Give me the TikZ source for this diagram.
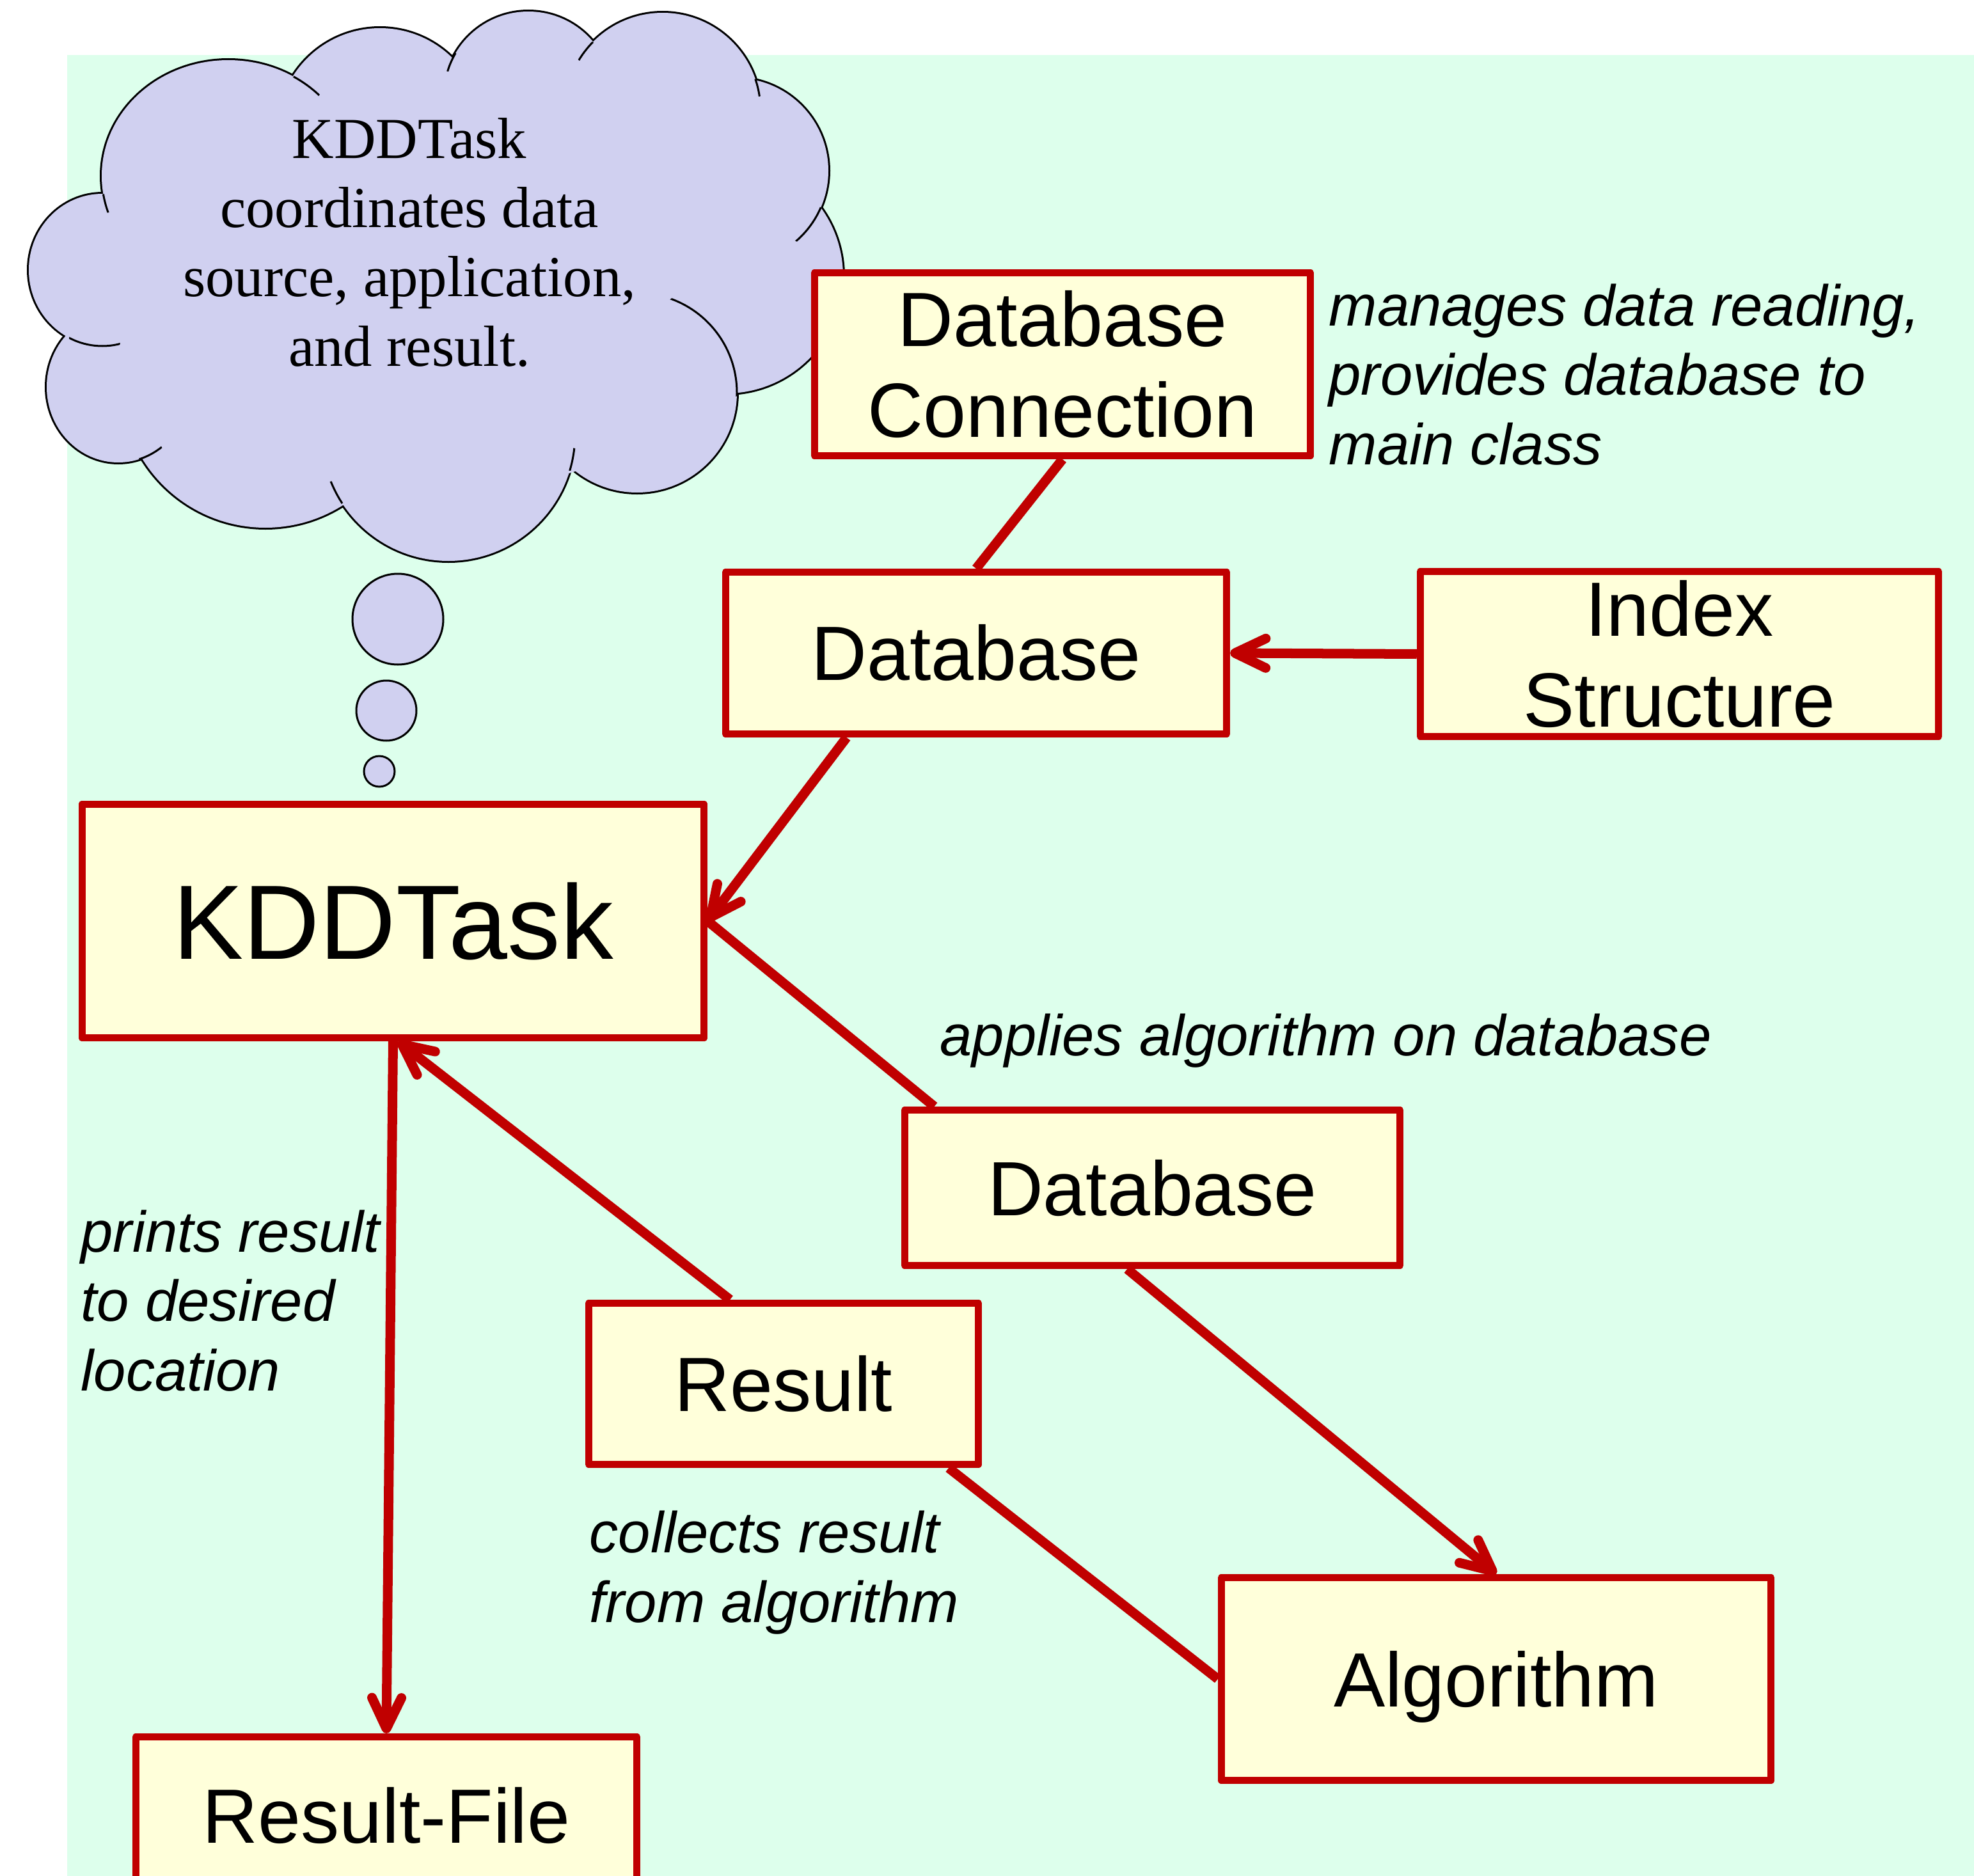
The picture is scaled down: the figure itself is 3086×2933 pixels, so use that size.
\documentclass[tikz,border=0pt]{standalone}
\usepackage{fontspec}
\setmainfont{Liberation Serif}
\newfontfamily\arialfont{Liberation Sans}
\usetikzlibrary{arrows.meta,calc}

\definecolor{boxred}{RGB}{192,0,0}
\definecolor{boxfill}{RGB}{255,255,218}
\definecolor{bgmint}{RGB}{221,255,236}
\definecolor{cloudfill}{RGB}{208,208,240}

\newcommand\boxfont{\arialfont\fontsize{34.2pt}{40.5pt}\selectfont}
\newcommand\kddfont{\arialfont\fontsize{47pt}{56pt}\selectfont}
\newcommand\notefont{\arialfont\itshape\fontsize{25.7pt}{30.8pt}\selectfont}
\newcommand\cloudfont{\fontsize{25.8pt}{30.8pt}\selectfont}

% the puffs of the thought cloud
\newcommand\cloudpuffs[1]{%
  \path[#1]
    (357,275) ellipse [x radius=198, y radius=181]
    (594,205) circle [radius=161]
    (826,150) circle [radius=132]
    (1036,173) circle [radius=153]
    (1150,267) circle [radius=145]
    (1135,432) circle [radius=183]
    (996,614) circle [radius=156]
    (701,679) circle [radius=198]
    (415,599) circle [radius=226]
    (185,605) ellipse [x radius=112, y radius=118]
    (160,422) ellipse [x radius=115, y radius=119];}

% a short inner stroke of one puff, limited to a small disc
\newcommand\puffstub[4]{%
  \begin{scope}
    \clip #1 circle [radius=#2];
    \draw[puffline] #3 #4;
  \end{scope}}

\begin{document}
\begin{tikzpicture}[x=0.01cm, y=-0.01cm,
  box/.style={draw=boxred, fill=boxfill, line width=0.11cm, line join=round,
    inner sep=0pt, align=center, font=\boxfont},
  conn/.style={draw=boxred, line width=0.15cm},
  tip/.style={-{Straight Barb[round, length=0.48cm, width=0.46cm]}},
  note/.style={font=\notefont, align=left, inner sep=0pt, anchor=base west},
  puffline/.style={draw=black, line width=0.03cm},
  bubble/.style={draw=black, fill=cloudfill, line width=0.03cm}]

\useasboundingbox (0,0) rectangle (3086,2933);
\fill[bgmint] (105,86) rectangle (3086,2933);

% thought cloud: outline, fill over the inner strokes, then the inner stubs
\cloudpuffs{draw=black, line width=0.06cm}
\cloudpuffs{fill=cloudfill}
\fill[cloudfill] (680,470) ellipse [x radius=480, y radius=300];

\puffstub{(165,318)}{15}{(357,275)}{ellipse [x radius=198, y radius=181]}
\puffstub{(480,133)}{25}{(357,275)}{ellipse [x radius=198, y radius=181]}
\puffstub{(703,96)}{16}{(826,150)}{circle [radius=132]}
\puffstub{(916,80)}{18}{(1036,173)}{circle [radius=153]}
\puffstub{(1185,137)}{14}{(1036,173)}{circle [radius=153]}
\puffstub{(1260,348)}{33}{(1150,267)}{circle [radius=145]}
\puffstub{(1105,540)}{92}{(996,614)}{circle [radius=156]}
\puffstub{(893,718)}{18}{(701,679)}{circle [radius=198]}
\puffstub{(522,772)}{20}{(701,679)}{circle [radius=198]}
\puffstub{(235,708)}{20}{(185,605)}{ellipse [x radius=112, y radius=118]}
\puffstub{(148,532)}{40}{(160,422)}{ellipse [x radius=115, y radius=119]}

% anchored at the baseline of the last line
\node[font=\cloudfont, align=center, anchor=base, inner sep=0pt] (cloudtext) at (640,572)
  {KDDTask\\coordinates data\\source, application,\\and result.};

\draw[bubble] (622,968) circle [radius=71];
\draw[bubble] (604,1111) circle [radius=47];
\draw[bubble] (593,1206) circle [radius=24];

% boxes
\node[box, minimum width=7.75cm, minimum height=2.86cm] (dbc) at (1661,569.5) {Database\\Connection};
\node[box, minimum width=7.83cm, minimum height=2.53cm] (db) at (1526,1021) {Database};
\node[box, minimum width=8.10cm, minimum height=2.58cm] (idx) at (2625.5,1022.5) {Index\\Structure};
\node[box, minimum width=9.72cm, minimum height=3.65cm, font=\kddfont] (kdd) at (614.5,1440) {KDDTask};
\node[box, minimum width=7.74cm, minimum height=2.43cm] (db3) at (1801.5,1857) {Database};
\node[box, minimum width=6.09cm, minimum height=2.52cm] (res) at (1225,2163.5) {Result};
\node[box, minimum width=8.59cm, minimum height=3.17cm, text depth=0pt] (alg) at (2339,2625) {Algorithm};
\node[box, minimum width=7.83cm, minimum height=2.45cm] (rf) at (604,2838) {Result-File};

% connectors
\draw[conn] (dbc.south) -- (db.north);
\draw[conn, tip] (idx.west) -- (db.east);
\draw[conn, tip] ($(db.south west)!0.245!(db.south east)$) -- (kdd.east);
\draw[conn] (kdd.east) -- ($(db3.north west)!0.066!(db3.north east)$);
\draw[conn, tip] ($(db3.south west)!0.45!(db3.south east)$) -- (alg.north);
\draw[conn] (alg.west) -- ($(res.south west)!0.916!(res.south east)$);
\draw[conn, tip] ($(res.north west)!0.365!(res.north east)$) -- ($(kdd.south west)!0.508!(kdd.south east)$);
\draw[conn, tip] (kdd.south) -- (rf.north);

% notes, each anchored at the baseline of its last line
\node[note] (notedbc) at (2077,726) {manages data reading,\\provides database to\\main class};
\node[note] (noteapply) at (1469,1650) {applies algorithm on database};
\node[note] (noteprint) at (126,2174) {prints result\\to desired\\location};
\node[note] (notecollect) at (921,2536) {collects result\\from algorithm};
\end{tikzpicture}
\end{document}
